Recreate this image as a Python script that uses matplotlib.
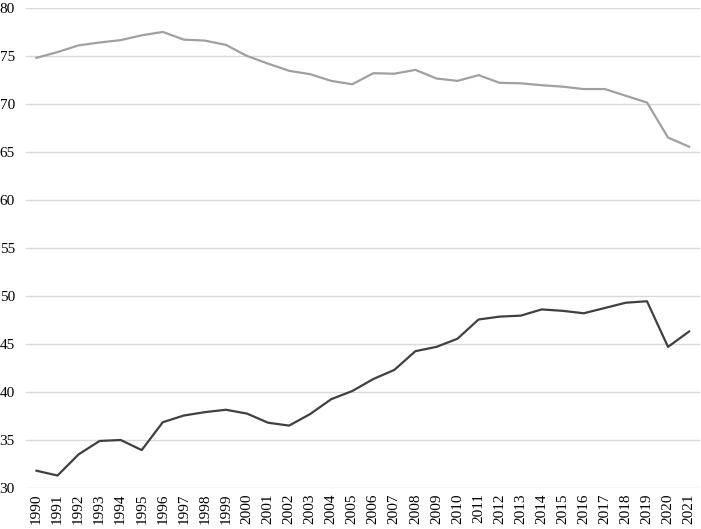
import matplotlib
matplotlib.use("Agg")
import matplotlib.pyplot as plt

years = list(range(1990, 2022))

upper = [74.8, 75.4, 76.1, 76.4, 76.65, 77.15, 77.5, 76.7, 76.6, 76.15,
         75.0, 74.2, 73.45, 73.1, 72.4, 72.05, 73.2, 73.15, 73.55, 72.65,
         72.4, 73.0, 72.2, 72.15, 71.95, 71.8, 71.55, 71.55, 70.85, 70.15,
         66.5, 65.55]

lower = [31.8, 31.3, 33.5, 34.9, 35.0, 33.95, 36.85, 37.55, 37.9, 38.15,
         37.75, 36.8, 36.5, 37.7, 39.25, 40.1, 41.35, 42.3, 44.25, 44.7,
         45.55, 47.55, 47.85, 47.95, 48.6, 48.45, 48.2, 48.75, 49.3, 49.45,
         44.7, 46.3]

plt.rcParams["font.family"] = ["Liberation Serif", "DejaVu Serif"]

fig = plt.figure(figsize=(7.01, 5.29), dpi=100)
ax = fig.add_axes([0.037, 0.0775, 0.961, 0.9075])

x = list(range(len(years)))
ax.plot(x, upper, color="#a0a0a0", linewidth=1.6)
ax.plot(x, lower, color="#404040", linewidth=1.6)

ax.set_ylim(30, 80)
ax.set_xlim(-0.5, len(years) - 0.5)
ax.set_yticks(range(30, 81, 5))
ax.set_xticks(x)
ax.set_xticklabels([str(y) for y in years], rotation=90)
ax.tick_params(axis="both", length=0, labelsize=11, colors="#000000")
ax.tick_params(axis="y", pad=8)
ax.tick_params(axis="x", pad=4)

ax.grid(axis="y", color="#d9d9d9", linewidth=1)
ax.set_axisbelow(True)
for s in ax.spines.values():
    s.set_visible(False)

fig.savefig("out.png", dpi=100)
